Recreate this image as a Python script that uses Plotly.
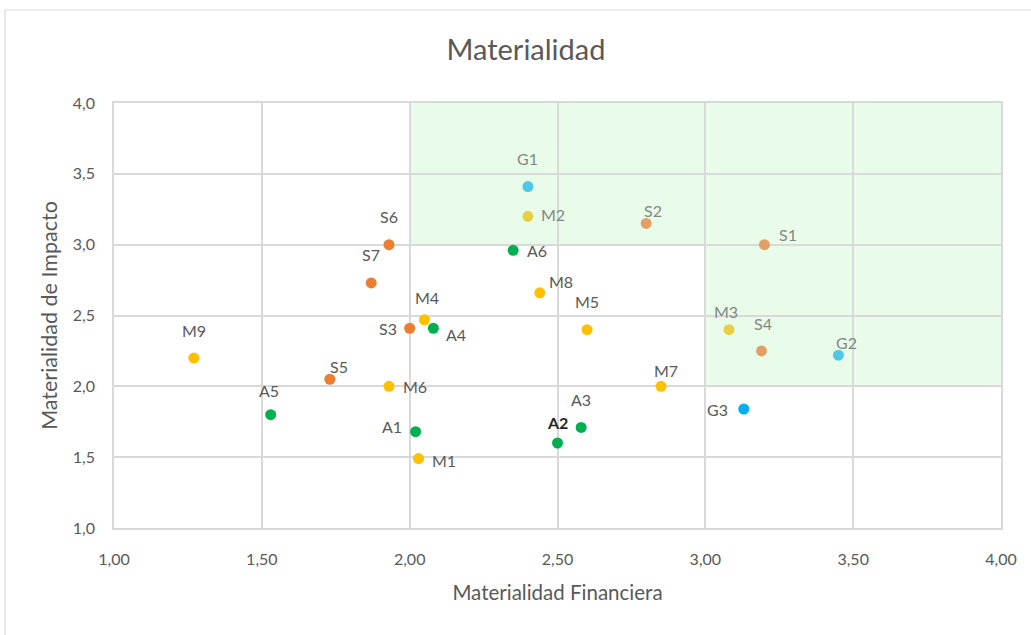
import plotly.graph_objects as go

# Materiality assessment: financial (x) vs impact (y) score per topic
codes = ["A1", "A2", "A3", "A4", "A5", "A6",
         "S1", "S2", "S3", "S4", "S5", "S6", "S7",
         "M1", "M2", "M3", "M4", "M5", "M6", "M7", "M8", "M9",
         "G1", "G2", "G3"]
financiera = [2.02, 2.50, 2.58, 2.08, 1.53, 2.35,
              3.20, 2.80, 2.00, 3.19, 1.73, 1.93, 1.87,
              2.03, 2.40, 3.08, 2.05, 2.60, 1.93, 2.85, 2.44, 1.27,
              2.40, 3.45, 3.13]
impacto = [1.68, 1.60, 1.71, 2.41, 1.80, 2.96,
           3.00, 3.15, 2.41, 2.25, 2.05, 3.00, 2.73,
           1.49, 3.20, 2.40, 2.47, 2.40, 2.00, 2.00, 2.66, 2.20,
           3.41, 2.22, 1.84]

x_ticks = [1.0, 1.5, 2.0, 2.5, 3.0, 3.5, 4.0]
y_ticks = [1.0, 1.5, 2.0, 2.5, 3.0, 3.5, 4.0]

# marker colours per topic
dot_color = {
    "A1": "#00b050", "A2": "#00b050", "A3": "#00b050", "A4": "#00b050",
    "A5": "#00b050", "A6": "#00b050",
    "S1": "#e2a066", "S2": "#e2a066", "S4": "#e2a066",
    "S3": "#ed7d31", "S5": "#ed7d31", "S6": "#ed7d31", "S7": "#ed7d31",
    "M1": "#ffc000", "M4": "#ffc000", "M5": "#ffc000", "M6": "#ffc000",
    "M7": "#ffc000", "M8": "#ffc000", "M9": "#ffc000",
    "M2": "#e9cf45", "M3": "#e9cf45",
    "G1": "#4cc8e8", "G2": "#4cc8e8", "G3": "#00b0f0",
}

# label offset (px) from its dot: (dx, dy) with dy positive upwards
label_shift = {
    "A1": (-24, 5), "A2": (0, 21), "A3": (0, 28), "A4": (23, -6),
    "A5": (-2, 24), "A6": (24, 0),
    "S1": (24, 10), "S2": (7, 13), "S3": (-22, 0), "S4": (1, 27),
    "S5": (9, 13), "S6": (0, 28), "S7": (0, 28),
    "M1": (25, -2), "M2": (25, 2), "M3": (-3, 18), "M4": (3, 22),
    "M5": (0, 28), "M6": (26, 0), "M7": (5, 16), "M8": (21, 11),
    "M9": (0, 28),
    "G1": (0, 28), "G2": (8, 13), "G3": (-26, 0),
}
soft_labels = {"S1", "S2", "S4", "M2", "M3", "G1", "G2"}

FONT = "Lato, 'Open Sans', sans-serif"
GRID = "#d9d9d9"

fig = go.Figure()

# shaded priority zones
fig.add_shape(type="rect", xref="x", yref="y", x0=2.0, x1=4.0, y0=3.0, y1=4.0,
              fillcolor="#e9fce9", line_width=0, layer="below")
fig.add_shape(type="rect", xref="x", yref="y", x0=3.0, x1=4.0, y0=2.0, y1=3.0,
              fillcolor="#e9fce9", line_width=0, layer="below")

fig.add_trace(go.Scatter(
    x=financiera, y=impacto, mode="markers",
    marker=dict(size=11, color=[dot_color[c] for c in codes], line_width=0),
    hovertext=codes, hoverinfo="text+x+y", showlegend=False,
))

for c, xv, yv in zip(codes, financiera, impacto):
    dx, dy = label_shift[c]
    if c == "A2":
        txt, col = "<b>A2</b>", "#262626"
    else:
        txt, col = c, ("#858585" if c in soft_labels else "#595959")
    fig.add_annotation(x=xv, y=yv, text=txt, showarrow=False,
                       xshift=dx, yshift=dy,
                       font=dict(family=FONT, size=16, color=col))

# outer chart frame
fig.add_shape(type="rect", xref="paper", yref="paper",
              x0=-0.1229, x1=1.2, y0=-0.4, y1=1.2188,
              line=dict(color="#d9d9d9", width=1.2), fillcolor="rgba(0,0,0,0)")

fig.update_layout(
    width=1031, height=635,
    margin=dict(l=114, r=30, t=103, b=107),
    paper_bgcolor="white", plot_bgcolor="white",
    separators=",.",
    font=dict(family=FONT, color="#595959"),
    title=dict(text="Materialidad", x=526 / 1031, xanchor="center",
               y=1 - 50 / 635, yanchor="middle",
               font=dict(family=FONT, size=29, color="#595959")),
)
fig.update_xaxes(
    range=[1.0, 4.0], tickvals=x_ticks, tickformat=".2f",
    showgrid=True, gridcolor=GRID, gridwidth=1.5,
    showline=True, mirror=True, linecolor=GRID, linewidth=1.5,
    zeroline=False, ticks="", ticklabelstandoff=16,
    tickfont=dict(family=FONT, size=16, color="#595959"),
    title=dict(text="Materialidad Financiera", standoff=19,
               font=dict(family=FONT, size=20.5, color="#595959")),
)
fig.update_yaxes(
    range=[1.0, 4.0], tickvals=y_ticks, tickformat=".1f",
    showgrid=True, gridcolor=GRID, gridwidth=1.5,
    showline=True, mirror=True, linecolor=GRID, linewidth=1.5,
    zeroline=False, ticks="", ticklabelstandoff=14,
    tickfont=dict(family=FONT, size=16, color="#595959"),
    title=dict(text="Materialidad de Impacto", standoff=9,
               font=dict(family=FONT, size=21.5, color="#595959")),
)

fig.write_html("out.html")
